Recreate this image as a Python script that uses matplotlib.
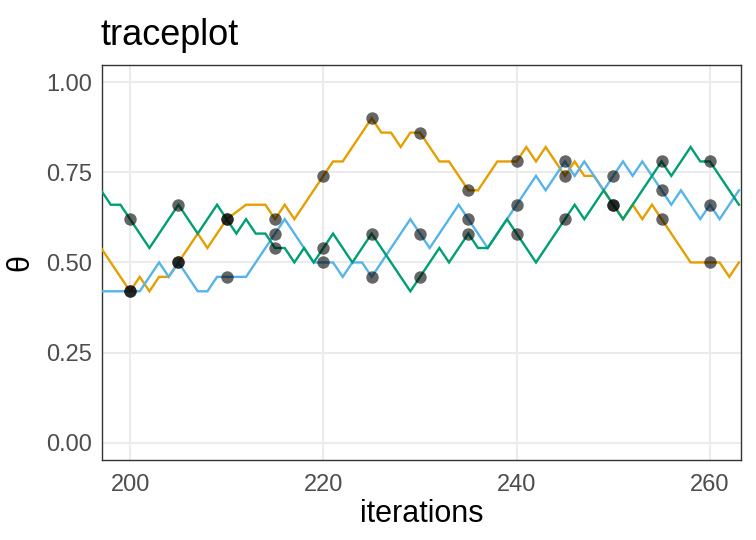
import matplotlib
matplotlib.use("Agg")
import matplotlib.pyplot as plt
from matplotlib import font_manager

iterations = list(range(197, 264))

chain_orange = [0.54, 0.50, 0.46, 0.42, 0.46, 0.42, 0.46, 0.46, 0.50, 0.54,
                0.58, 0.54, 0.58, 0.62, 0.64, 0.66, 0.66, 0.66, 0.62, 0.66,
                0.62, 0.66, 0.70, 0.74, 0.78, 0.78, 0.82, 0.86, 0.90, 0.86,
                0.86, 0.82, 0.86, 0.86, 0.82, 0.78, 0.78, 0.74, 0.70, 0.70,
                0.74, 0.78, 0.78, 0.78, 0.82, 0.78, 0.82, 0.78, 0.74, 0.78,
                0.74, 0.74, 0.70, 0.66, 0.62, 0.66, 0.62, 0.66, 0.62, 0.58,
                0.54, 0.50, 0.50, 0.50, 0.50, 0.46, 0.50]

chain_green = [0.70, 0.66, 0.66, 0.62, 0.58, 0.54, 0.58, 0.62, 0.66, 0.62,
               0.58, 0.62, 0.66, 0.62, 0.58, 0.62, 0.58, 0.58, 0.54, 0.54,
               0.50, 0.54, 0.50, 0.54, 0.58, 0.54, 0.50, 0.54, 0.58, 0.54,
               0.50, 0.46, 0.42, 0.46, 0.50, 0.54, 0.50, 0.54, 0.58, 0.54,
               0.54, 0.58, 0.62, 0.58, 0.54, 0.50, 0.54, 0.58, 0.62, 0.66,
               0.62, 0.66, 0.70, 0.66, 0.62, 0.66, 0.70, 0.74, 0.78, 0.74,
               0.78, 0.82, 0.78, 0.78, 0.74, 0.70, 0.66]

chain_blue = [0.42, 0.42, 0.42, 0.42, 0.42, 0.46, 0.50, 0.46, 0.50, 0.46,
              0.42, 0.42, 0.46, 0.46, 0.46, 0.46, 0.50, 0.54, 0.58, 0.62,
              0.58, 0.54, 0.50, 0.50, 0.50, 0.46, 0.50, 0.50, 0.46, 0.50,
              0.54, 0.58, 0.62, 0.58, 0.54, 0.58, 0.62, 0.66, 0.62, 0.58,
              0.54, 0.58, 0.62, 0.66, 0.70, 0.74, 0.70, 0.74, 0.78, 0.74,
              0.78, 0.74, 0.70, 0.74, 0.78, 0.74, 0.78, 0.74, 0.70, 0.66,
              0.70, 0.66, 0.62, 0.66, 0.62, 0.66, 0.70]

colors = {"orange": "#E69F00", "blue": "#56B4E9", "green": "#009E73"}
x_ticks = [200, 220, 240, 260]
y_ticks = [0.00, 0.25, 0.50, 0.75, 1.00]
y_ticklabels = ["0.00", "0.25", "0.50", "0.75", "1.00"]
point_every = 5

names = {f.name for f in font_manager.fontManager.ttflist}
fam = "Liberation Sans Narrow" if "Liberation Sans Narrow" in names else "Liberation Sans"
plt.rcParams["font.family"] = [fam, "DejaVu Sans"]

fig = plt.figure(figsize=(7.56, 5.4), dpi=100)
ax = fig.add_axes([0.135, 0.148, 0.845, 0.732])

for vals, key in [(chain_orange, "orange"), (chain_blue, "blue"), (chain_green, "green")]:
    ax.plot(iterations, vals, color=colors[key], lw=1.7, zorder=3, solid_joinstyle="miter")

for vals in [chain_orange, chain_blue, chain_green]:
    px = [it for it in iterations if it % point_every == 0]
    py = [v for it, v in zip(iterations, vals) if it % point_every == 0]
    ax.scatter(px, py, s=80, color="black", alpha=0.6, linewidths=0, zorder=4)

ax.set_xlim(197.1, 263.2)
ax.set_ylim(-0.048, 1.048)
ax.set_xticks(x_ticks)
ax.set_yticks(y_ticks)
ax.set_yticklabels(y_ticklabels)
ax.grid(True, color="#EBEBEB", lw=1.5, zorder=0)
ax.set_axisbelow(True)
ax.tick_params(length=0, labelsize=17, labelcolor="#4D4D4D")
ax.tick_params(axis="x", pad=10)
ax.tick_params(axis="y", pad=7)
for sp in ax.spines.values():
    sp.set_color("#333333")
    sp.set_linewidth(1.0)

ax.set_xlabel("iterations", fontsize=22, labelpad=2)
ax.set_ylabel("θ", fontsize=22, labelpad=8)
ax.set_title("traceplot", fontsize=26, loc="left", pad=14, x=-0.003)

fig.savefig("out.png", dpi=100)
